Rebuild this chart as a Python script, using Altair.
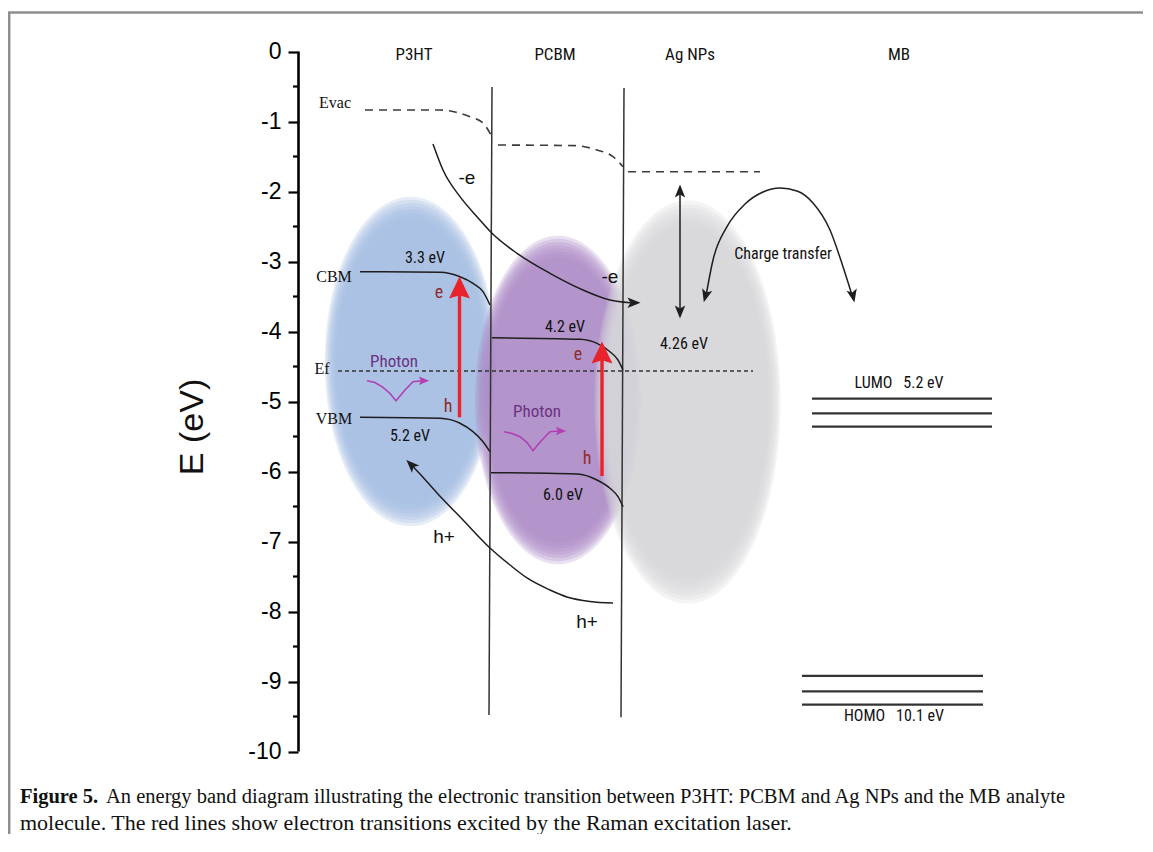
import altair as alt
import pandas as pd

# ---------------- geometry of the drawing area ----------------
PX_PER_EV = 70.0
AX_X = 298               # position of the energy axis (diagram units = px)
X1 = 1143
W = X1 - AX_X
H = 826
Y_TOP = 43.5 / PX_PER_EV
Y_BOT = Y_TOP - H / PX_PER_EV

# ---------------- data (x in diagram units, y in eV) ----------------
tick_values = [0, -1, -2, -3, -4, -5, -6, -7, -8, -9, -10]
minor_ticks = [-0.5, -1.5, -2.5, -3.5, -4.5, -5.5, -6.5, -7.5, -8.5, -9.5]

headers = ["P3HT", "PCBM", "Ag NPs", "MB"]
header_x = [414, 555, 690, 899]
header_y = [-0.05, -0.05, -0.05, -0.05]

# interfaces between layers
iface_x = [492, 624]
iface_x2 = [489, 621]
iface_top = [-0.507, -0.521]
iface_bot = [-9.48, -9.51]

# vacuum level (dashed)
evac_p3ht_x = [365, 440, 455, 470, 483, 492]
evac_p3ht_y = [-0.836, -0.836, -0.864, -0.931, -1.021, -1.217]
evac_pcbm_x = [498, 575, 597, 613, 623]
evac_pcbm_y = [-1.336, -1.345, -1.407, -1.503, -1.646]
evac_ag_x = [628, 760]
evac_ag_y = [-1.717, -1.717]

# Fermi level
ef_x = [338, 753]
ef_y = -4.564

# band edges
cbm_p3ht_x = [360, 440, 460, 473, 483, 490]
cbm_p3ht_y = [-3.146, -3.154, -3.217, -3.311, -3.431, -3.621]
vbm_p3ht_x = [360, 440, 460, 473, 483, 490]
vbm_p3ht_y = [-5.226, -5.24, -5.311, -5.431, -5.574, -5.717]
cbm_pcbm_x = [492, 580, 597, 610, 618, 623]
cbm_pcbm_y = [-4.089, -4.111, -4.169, -4.289, -4.407, -4.55]
vbm_pcbm_x = [491, 577, 597, 610, 618, 623]
vbm_pcbm_y = [-6.017, -6.036, -6.121, -6.24, -6.36, -6.503]

# electron and hole paths
e_path_x = [433, 443, 460, 477, 492, 517, 550, 583, 610, 630]
e_path_y = [-1.321, -1.693, -2.074, -2.36, -2.597, -2.883, -3.169, -3.407, -3.55, -3.589]
h_path_x = [411, 420, 437, 463, 490, 510, 527, 550, 567, 590, 613]
h_path_y = [-5.9, -6.036, -6.307, -6.693, -7.093, -7.336, -7.521, -7.693, -7.793, -7.857, -7.879]
ct_path_x = [706, 713, 727, 745, 763, 780, 797, 813, 830, 843, 852]
ct_path_y = [-3.493, -2.979, -2.503, -2.179, -2.007, -1.95, -1.993, -2.164, -2.55, -3.074, -3.479]

# Ag work-function double arrow
ag_arrow_x = 680
ag_arrow_top = -1.95
ag_arrow_bot = -3.76

# photon squiggles
ph1_x = [367, 375, 383, 390, 396, 405, 413, 422]
ph1_y = [-4.703, -4.729, -4.797, -4.886, -4.989, -4.836, -4.717, -4.703]
ph2_x = [504, 512, 520, 527, 533, 541, 550, 559]
ph2_y = [-5.431, -5.457, -5.503, -5.586, -5.703, -5.564, -5.431, -5.421]

# red excitation arrows
red_x = [459.5, 602]
red_from = [-5.226, -6.064]
red_to = [-3.45, -4.38]
red_head_y = [-3.371, -4.3]

# MB molecular levels
lumo_levels = [-4.96, -5.17, -5.36]
lumo_x = [812, 992]
homo_levels = [-8.92, -9.14, -9.33]
homo_x = [802, 983]

# shaded particles: left, right, top, bottom
ell_names = ["P3HT", "PCBM", "Ag"]
ell_left = [328, 478, 598]
ell_right = [493, 638, 777]
ell_top = [-2.164, -2.721, -2.236]
ell_bot = [-6.693, -7.236, -7.779]

# black arrow heads
head_x = [634, 680, 680, 705.5, 853, 411]
head_y = [-3.589, -1.993, -3.721, -3.493, -3.493, -5.9]
head_ang = [90, 0, 180, 195, 168, 315]
ph_head_x = [424, 561]
ph_head_y = [-4.703, -5.421]

# labels
serif_lbl = ["Evac", "CBM", "Ef", "VBM"]
serif_x = [335, 334, 322, 334]
serif_y = [-0.736, -3.221, -4.536, -5.25]

ev_lbl = ["3.3 eV", "5.2 eV", "4.2 eV", "6.0 eV", "4.26 eV", "Charge transfer",
          "LUMO\u2002 5.2 eV", "HOMO\u2002 10.1 eV"]
ev_x = [425, 410, 565, 563, 684, 783, 899, 894]
ev_y = [-2.95, -5.493, -3.936, -6.336, -4.179, -2.893, -4.736, -9.493]

carrier_lbl = ["-e", "-e", "h+", "h+"]
carrier_x = [467, 610, 444, 587]
carrier_y = [-1.807, -3.221, -6.936, -8.15]

eh_lbl = ["e", "h", "e", "h"]
eh_x = [439, 448, 578, 587]
eh_y = [-3.45, -5.079, -4.336, -5.821]

photon_lbl = ["Photon", "Photon"]
photon_x = [394, 537]
photon_y = [-4.436, -5.15]

caption_bold = "Figure 5."
caption_1 = ("An energy band diagram illustrating the electronic transition between "
             "P3HT: PCBM and Ag NPs and the MB analyte")
caption_2 = "molecule. The red lines show electron transitions excited by the Raman excitation laser."

# ---------------- helpers ----------------
NARROW = "Liberation Sans Narrow, Arial Narrow, Roboto Condensed, Liberation Sans, sans-serif"
SERIF = "Liberation Serif, Times New Roman, serif"
SANS = "Liberation Sans, Arial, sans-serif"

xs = alt.Scale(domain=[AX_X, X1], nice=False, zero=False)
ys = alt.Scale(domain=[Y_BOT, Y_TOP], nice=False, zero=False)
y_axis = alt.Axis(
    values=tick_values, labelExpr="'' + datum.value", tickSize=10, tickWidth=2.2,
    tickColor="black", domain=False, grid=False, labelFont=SANS, labelFontSize=23,
    labelColor="black", labelPadding=7, title=None, labelFlush=False, labelOverlap=False)

X = lambda f="x": alt.X(f"{f}:Q", scale=xs, axis=None)
Y = lambda f="y": alt.Y(f"{f}:Q", scale=ys, axis=y_axis)


def curves_df(curves):
    rows = []
    for name, cx, cy in curves:
        for i, (a, b) in enumerate(zip(cx, cy)):
            rows.append({"id": name, "i": i, "x": a, "y": b})
    return pd.DataFrame(rows)


def line_layer(curves, color, width, dash=None, interp="linear"):
    kw = dict(color=color, strokeWidth=width, interpolate=interp)
    if dash:
        kw["strokeDash"] = dash
    return alt.Chart(curves_df(curves)).mark_line(**kw).encode(
        x=X(), y=Y(), detail="id:N", order="i:Q")


def text_layer(tx, ty, texts, font, size, color, weight="normal", align="center", angle=0):
    df = pd.DataFrame({"x": tx, "y": ty, "t": texts})
    kw = dict(font=font, fontSize=size, color=color, fontWeight=weight,
              align=align, baseline="middle")
    if angle:
        kw["angle"] = angle
    return alt.Chart(df).mark_text(**kw).encode(x=X(), y=Y(), text="t:N")


def ellipse_path(r):
    k = 0.5523
    return (f"M0,-1C{k*r:.4f},-1 {r:.4f},{-k} {r:.4f},0C{r:.4f},{k} {k*r:.4f},1 0,1"
            f"C{-k*r:.4f},1 {-r:.4f},{k} {-r:.4f},0C{-r:.4f},{-k} {-k*r:.4f},-1 0,-1Z")


def ellipse_layer(i, color, alpha):
    w_px = ell_right[i] - ell_left[i]
    h_px = (ell_top[i] - ell_bot[i]) * PX_PER_EV
    cx = (ell_left[i] + ell_right[i]) / 2
    cy = (ell_top[i] + ell_bot[i]) / 2
    steps = [1.04, 1.02, 1.0, 0.98, 0.96, 0.94, 0.92, 0.90]
    df = pd.DataFrame({"x": [cx] * len(steps), "y": [cy] * len(steps),
                       "s": [(h_px * f) ** 2 for f in steps]})
    return alt.Chart(df).mark_point(shape=ellipse_path(w_px / h_px), filled=True,
                                    color=color, opacity=alpha, strokeWidth=0).encode(
        x=X(), y=Y(), size=alt.Size("s:Q", scale=None, legend=None))


HEAD = "M0,-1L0.8,1L0,0.55L-0.8,1Z"
RED_HEAD = "M0,-1L0.95,1L0,0.7L-0.95,1Z"

layers = []

# axis line (the axis itself supplies ticks and labels)
axis_df = pd.DataFrame({"x": [AX_X + 0.5], "y": [0], "y2": [-10]})
layers.append(alt.Chart(axis_df).mark_rule(color="black", strokeWidth=2.6).encode(
    x=X(), y=Y(), y2="y2:Q"))

# minor ticks
mt_df = pd.DataFrame({"x": [AX_X - 5] * len(minor_ticks), "x2": [AX_X + 0.5] * len(minor_ticks),
                      "y": minor_ticks})
layers.append(alt.Chart(mt_df).mark_rule(color="black", strokeWidth=2.2).encode(
    x=X(), x2="x2:Q", y=Y()))

# frame of the figure
fr_df = pd.DataFrame({"x": [8, 9.2], "x2": [1153, 9.2], "y": [0.557, 0.557], "y2": [0.557, Y_BOT]})
layers.append(alt.Chart(fr_df).mark_rule(color="#8e8e8e", strokeWidth=2.5).encode(
    x=X(), x2="x2:Q", y=Y(), y2="y2:Q"))

# shaded particles
layers.append(ellipse_layer(0, "#a6c0e3", 0.28))
layers.append(ellipse_layer(1, "#ad8bc6", 0.27))
layers.append(ellipse_layer(2, "#d5d6da", 0.27))

# interfaces
if_df = pd.DataFrame({"x": iface_x, "x2": iface_x2, "y": iface_top, "y2": iface_bot})
layers.append(alt.Chart(if_df).mark_rule(color="#333333", strokeWidth=1.5).encode(
    x=X(), x2="x2:Q", y=Y(), y2="y2:Q"))

# vacuum level
layers.append(line_layer([("a", evac_p3ht_x, evac_p3ht_y), ("b", evac_pcbm_x, evac_pcbm_y),
                          ("c", evac_ag_x, evac_ag_y)], "#3a3a3a", 1.6, dash=[8, 6],
                         interp="monotone"))

# Fermi level
ef_df = pd.DataFrame({"x": [ef_x[0]], "x2": [ef_x[1]], "y": [ef_y]})
layers.append(alt.Chart(ef_df).mark_rule(color="#333333", strokeWidth=1.3,
                                         strokeDash=[4, 3]).encode(x=X(), x2="x2:Q", y=Y()))

# band edges and carrier paths
layers.append(line_layer([("c1", cbm_p3ht_x, cbm_p3ht_y), ("v1", vbm_p3ht_x, vbm_p3ht_y),
                          ("c2", cbm_pcbm_x, cbm_pcbm_y), ("v2", vbm_pcbm_x, vbm_pcbm_y),
                          ("e", e_path_x, e_path_y), ("h", h_path_x, h_path_y),
                          ("ct", ct_path_x, ct_path_y)], "#1e1e1e", 1.5, interp="monotone"))

# Ag double arrow shaft
ag_df = pd.DataFrame({"x": [ag_arrow_x], "y": [ag_arrow_top], "y2": [ag_arrow_bot]})
layers.append(alt.Chart(ag_df).mark_rule(color="#1e1e1e", strokeWidth=1.5).encode(
    x=X(), y=Y(), y2="y2:Q"))

# MB levels
lv_df = pd.DataFrame({"x": [lumo_x[0]] * 3 + [homo_x[0]] * 3,
                      "x2": [lumo_x[1]] * 3 + [homo_x[1]] * 3,
                      "y": lumo_levels + homo_levels})
layers.append(alt.Chart(lv_df).mark_rule(color="#333333", strokeWidth=2.2).encode(
    x=X(), x2="x2:Q", y=Y()))

# photon squiggles
layers.append(line_layer([("p1", ph1_x, ph1_y), ("p2", ph2_x, ph2_y)], "#b23fb4", 1.6))
ph_df = pd.DataFrame({"x": ph_head_x, "y": ph_head_y})
layers.append(alt.Chart(ph_df).mark_point(shape=HEAD, filled=True, color="#b23fb4", size=110,
                                          opacity=1, angle=90).encode(x=X(), y=Y()))

# red excitation arrows
rd_df = pd.DataFrame({"x": red_x, "y": red_from, "y2": red_to})
layers.append(alt.Chart(rd_df).mark_rule(color="#e8232b", strokeWidth=3.4).encode(
    x=X(), y=Y(), y2="y2:Q"))
rh_df = pd.DataFrame({"x": red_x, "y": red_head_y})
layers.append(alt.Chart(rh_df).mark_point(shape=RED_HEAD, filled=True, color="#e8232b",
                                          size=484, opacity=1).encode(x=X(), y=Y()))

# black arrow heads
hd_df = pd.DataFrame({"x": head_x, "y": head_y, "a": head_ang})
layers.append(alt.Chart(hd_df).mark_point(shape=HEAD, filled=True, color="#1e1e1e", size=170,
                                          opacity=1).encode(
    x=X(), y=Y(), angle=alt.Angle("a:Q", scale=None)))

# texts
layers.append(text_layer(header_x, header_y, headers, NARROW, 17, "#111111"))
layers.append(text_layer(serif_x, serif_y, serif_lbl, SERIF, 16, "#111111"))
layers.append(text_layer(ev_x, ev_y, ev_lbl, NARROW, 16, "#111111"))
layers.append(text_layer(carrier_x, carrier_y, carrier_lbl, SANS, 19, "#111111"))
layers.append(text_layer(eh_x, eh_y, eh_lbl, NARROW, 18, "#8e2b2b"))
layers.append(text_layer(photon_x, photon_y, photon_lbl, NARROW, 17, "#6b3183"))
layers.append(text_layer([193], [-5.364], ["E (eV)"], SANS, 34, "#111111", angle=270))

# caption
layers.append(text_layer([20], [-10.65], [caption_bold], SERIF, 20.5, "#111111",
                         weight="bold", align="left"))
layers.append(text_layer([106], [-10.65], [caption_1], SERIF, 20.5, "#111111", align="left"))
layers.append(text_layer([20], [-11.021], [caption_2], SERIF, 22, "#111111", align="left"))

chart = alt.layer(*layers).properties(
    width=W, height=H,
    padding={"left": AX_X - 8, "top": 0, "right": 0, "bottom": 0},
    autosize=alt.AutoSizeParams(type="none"), background="white",
).configure_view(stroke=None)

chart.save("out.html", embed_options={"renderer": "svg", "actions": False})
